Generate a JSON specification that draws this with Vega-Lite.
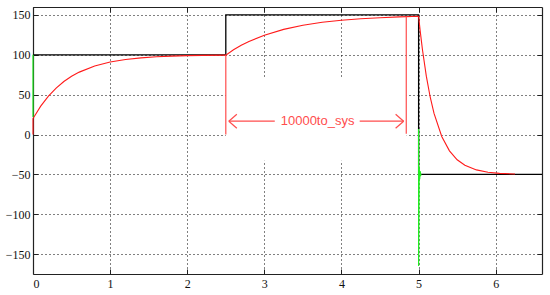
{
  "$schema": "https://vega.github.io/schema/vega-lite/v6.json",
  "width": 509,
  "height": 267,
  "autosize": {"type": "none"},
  "padding": {"left": 33, "top": 7, "right": 8, "bottom": 21},
  "background": "white",
  "config": {
    "view": {"stroke": null},
    "axis": {
      "domainColor": "#222222",
      "domainWidth": 1.2,
      "tickColor": "#222222",
      "tickSize": -5,
      "labelFont": "Liberation Sans Narrow",
      "labelFontSize": 12,
      "labelColor": "#111111",
      "title": null
    }
  },
  "datasets": {
    "cover": [{"x": 2.5, "x2": 4.845, "y": -33, "y2": 72}],
    "black": [
      {"i": 0, "x": 0, "y": 100},
      {"i": 1, "x": 2.5, "y": 100},
      {"i": 2, "x": 2.5, "y": 150},
      {"i": 3, "x": 5, "y": 150},
      {"i": 4, "x": 5, "y": -50},
      {"i": 5, "x": 6.6, "y": -50}
    ],
    "red": [
      {"i": 0, "x": 0, "y": 0},
      {"i": 1, "x": 0, "y": 20},
      {"i": 2, "x": 0.1, "y": 35.6},
      {"i": 3, "x": 0.2, "y": 48.2},
      {"i": 4, "x": 0.3, "y": 58.3},
      {"i": 5, "x": 0.4, "y": 66.5},
      {"i": 6, "x": 0.5, "y": 73.0},
      {"i": 7, "x": 0.6, "y": 78.3},
      {"i": 8, "x": 0.8, "y": 85.9},
      {"i": 9, "x": 1.0, "y": 90.9},
      {"i": 10, "x": 1.2, "y": 94.1},
      {"i": 11, "x": 1.4, "y": 96.2},
      {"i": 12, "x": 1.6, "y": 97.5},
      {"i": 13, "x": 1.8, "y": 98.4},
      {"i": 14, "x": 2.0, "y": 99.0},
      {"i": 15, "x": 2.2, "y": 99.3},
      {"i": 16, "x": 2.5, "y": 99.6},
      {"i": 17, "x": 2.6, "y": 106.3},
      {"i": 18, "x": 2.7, "y": 111.9},
      {"i": 19, "x": 2.8, "y": 116.7},
      {"i": 20, "x": 3.0, "y": 124.6},
      {"i": 21, "x": 3.25, "y": 131.9},
      {"i": 22, "x": 3.5, "y": 137.0},
      {"i": 23, "x": 3.75, "y": 140.8},
      {"i": 24, "x": 4.0, "y": 143.4},
      {"i": 25, "x": 4.25, "y": 145.3},
      {"i": 26, "x": 4.5, "y": 146.6},
      {"i": 27, "x": 4.75, "y": 147.6},
      {"i": 28, "x": 5.0, "y": 148.3},
      {"i": 29, "x": 5.02, "y": 130.3},
      {"i": 30, "x": 5.05, "y": 106.3},
      {"i": 31, "x": 5.1, "y": 73.2},
      {"i": 32, "x": 5.15, "y": 47.1},
      {"i": 33, "x": 5.2, "y": 26.5},
      {"i": 34, "x": 5.3, "y": -2.4},
      {"i": 35, "x": 5.4, "y": -20.5},
      {"i": 36, "x": 5.5, "y": -31.7},
      {"i": 37, "x": 5.6, "y": -38.6},
      {"i": 38, "x": 5.75, "y": -44.4},
      {"i": 39, "x": 5.9, "y": -47.3},
      {"i": 40, "x": 6.05, "y": -48.7},
      {"i": 41, "x": 6.25, "y": -49.5}
    ],
    "green": [
      {"s": "a", "i": 0, "x": 0, "y": 100},
      {"s": "a", "i": 1, "x": 0, "y": 22},
      {"s": "b", "i": 0, "x": 5.0, "y": 7},
      {"s": "b", "i": 1, "x": 5.0, "y": -165},
      {"s": "b", "i": 2, "x": 5.004, "y": -95},
      {"s": "b", "i": 3, "x": 5.008, "y": -40},
      {"s": "b", "i": 4, "x": 5.014, "y": -56},
      {"s": "b", "i": 5, "x": 5.02, "y": -46},
      {"s": "b", "i": 6, "x": 5.028, "y": -51},
      {"s": "b", "i": 7, "x": 5.036, "y": -50}
    ],
    "ann": [
      {"x": 2.5, "x2": 2.5, "y": 0, "y2": 100},
      {"x": 4.84, "x2": 4.84, "y": 1, "y2": 148},
      {"x": 2.539, "x2": 3.135, "y": 16.7, "y2": 16.7},
      {"x": 4.236, "x2": 4.806, "y": 16.7, "y2": 16.7},
      {"x": 2.539, "x2": 2.643, "y": 16.7, "y2": 25.5},
      {"x": 2.539, "x2": 2.643, "y": 16.7, "y2": 7.9},
      {"x": 4.806, "x2": 4.702, "y": 16.7, "y2": 25.5},
      {"x": 4.806, "x2": 4.702, "y": 16.7, "y2": 7.9}
    ],
    "label": [{"x": 3.69, "y": 16.7, "t": "10000to_sys"}]
  },
  "resolve": {"axis": {"x": "independent", "y": "independent"}},
  "layer": [
    {
      "data": {"name": "cover"},
      "mark": {"type": "rect", "color": "white"},
      "encoding": {
        "x": {"field": "x", "type": "quantitative",
              "scale": {"domain": [0, 6.6], "nice": false, "zero": false},
              "axis": {"orient": "bottom", "values": [0, 1, 2, 3, 4, 5, 6], "format": "d",
                       "grid": true, "gridColor": "#000000", "gridDash": [1, 3], "gridOpacity": 1,
                       "labelPadding": 9}},
        "x2": {"field": "x2"},
        "y": {"field": "y", "type": "quantitative",
              "scale": {"domain": [-175, 160], "nice": false, "zero": false},
              "axis": {"orient": "left", "values": [-150, -100, -50, 0, 50, 100, 150], "format": "d",
                       "grid": true, "gridColor": "#000000", "gridDash": [1, 3], "gridOpacity": 1,
                       "labelPadding": 8}},
        "y2": {"field": "y2"}
      }
    },
    {
      "data": {"name": "black"},
      "mark": {"type": "line", "color": "#000000", "strokeWidth": 1.3},
      "encoding": {
        "x": {"field": "x", "type": "quantitative",
              "axis": {"orient": "top", "values": [0, 1, 2, 3, 4, 5, 6], "labels": false, "grid": false}},
        "y": {"field": "y", "type": "quantitative",
              "axis": {"orient": "right", "values": [-150, -100, -50, 0, 50, 100, 150], "labels": false, "grid": false}},
        "order": {"field": "i", "type": "quantitative"}
      }
    },
    {
      "data": {"name": "red"},
      "mark": {"type": "line", "color": "#ff1a1a", "strokeWidth": 1.1},
      "encoding": {
        "x": {"field": "x", "type": "quantitative", "axis": null},
        "y": {"field": "y", "type": "quantitative", "axis": null},
        "order": {"field": "i", "type": "quantitative"}
      }
    },
    {
      "data": {"name": "green"},
      "mark": {"type": "line", "color": "#22ee22", "strokeWidth": 1.2},
      "encoding": {
        "x": {"field": "x", "type": "quantitative", "axis": null},
        "y": {"field": "y", "type": "quantitative", "axis": null},
        "detail": {"field": "s"},
        "order": {"field": "i", "type": "quantitative"}
      }
    },
    {
      "data": {"name": "ann"},
      "mark": {"type": "rule", "color": "#ff4d4d", "strokeWidth": 1.2},
      "encoding": {
        "x": {"field": "x", "type": "quantitative", "axis": null},
        "x2": {"field": "x2"},
        "y": {"field": "y", "type": "quantitative", "axis": null},
        "y2": {"field": "y2"}
      }
    },
    {
      "data": {"name": "label"},
      "mark": {"type": "text", "color": "#ff4d4d", "font": "Liberation Sans", "fontSize": 13, "align": "center", "baseline": "middle"},
      "encoding": {
        "x": {"field": "x", "type": "quantitative", "axis": null},
        "y": {"field": "y", "type": "quantitative", "axis": null},
        "text": {"field": "t"}
      }
    }
  ]
}
